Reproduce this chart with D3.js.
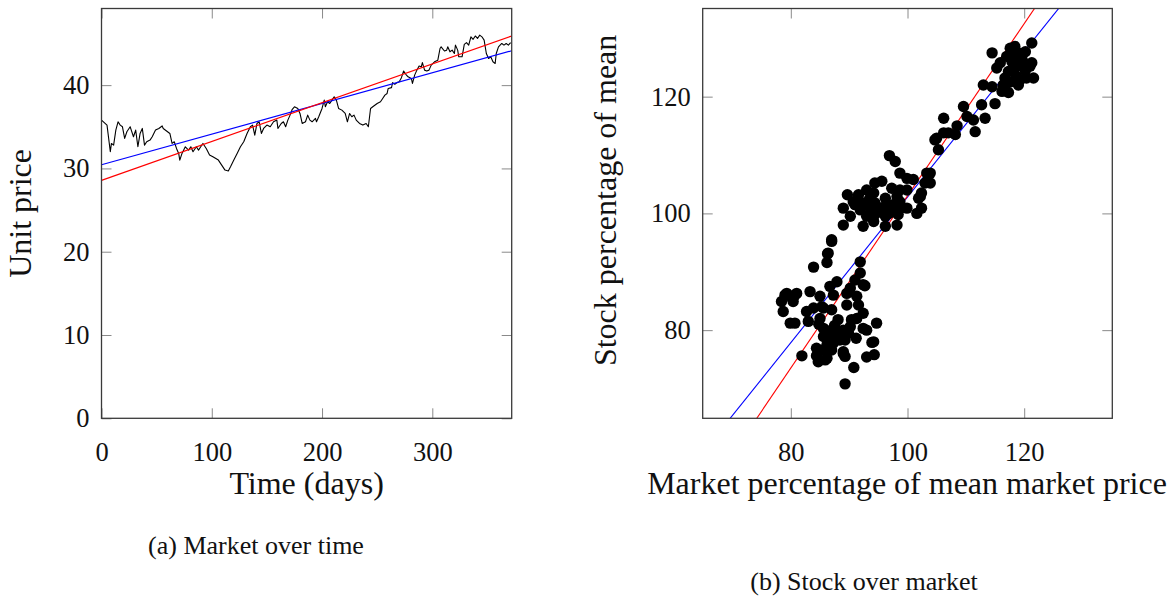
<!DOCTYPE html>
<html>
<head>
<meta charset="utf-8">
<script src="https://cdn.jsdelivr.net/npm/d3@7"></script>
<style>
  html, body { margin: 0; padding: 0; background: #fff; }
  svg { display: block; }
  text { font-family: "Liberation Serif", "Times New Roman", serif; fill: #111; }
</style>
</head>
<body>
<svg id="chart" width="1175" height="596"></svg>
<script>
// ---------- Data: (a) Market over time ----------
const days = [0,5,8,9,11,13,15,17,19,21,23,26,27,29,31,33,35,37,39,41,44,46,49,52,55,56,59,62,64,66,68,70,71,73,76,79,81,83,86,88,90,92,95,98,101,106,109,112,115,117,120,123,126,129,132,135,137,139,141,143,145,147,150,153,156,159,160,163,165,167,169,171,173,175,178,180,182,185,187,189,191,194,195,197,200,202,203,205,207,209,211,213,215,218,221,223,225,227,229,231,234,237,240,242,244,246,250,253,255,257,259,260,263,264,266,268,270,272,274,276,278,281,282,284,286,288,290,291,293,295,297,299,302,305,307,308,311,313,314,316,318,320,321,323,324,327,329,331,333,335,337,339,341,343,345,347,349,351,353,355,357,358,360,363,365,367,369,371];
const prices = [35.8,35.2,32.0,33.0,32.8,34.6,35.6,35.2,35.0,33.6,34.4,35.0,34.6,33.8,34.6,32.6,34.2,34.8,32.8,33.2,33.4,33.8,34.6,34.8,35.1,34.8,34.5,34.2,33.0,33.2,32.4,31.8,31.0,31.8,32.6,32.2,32.6,32.0,32.6,32.2,32.6,33.0,32.4,31.6,31.4,31.0,30.4,29.8,29.7,30.2,31.0,31.8,32.6,33.2,34.2,35.0,35.2,34.0,35.4,35.6,34.2,34.8,35.2,35.0,35.6,35.8,34.8,35.4,35.6,35.0,35.8,36.4,37.1,37.4,37.2,36.6,35.4,35.6,36.4,35.8,35.6,36.0,35.6,36.2,37.2,38.2,37.4,38.0,37.8,38.2,38.6,38.2,37.2,37.0,36.6,35.6,36.6,36.2,36.4,35.8,35.4,35.2,35.4,35.0,37.2,37.4,37.8,38.0,38.4,38.8,39.0,39.6,39.7,40.3,40.1,40.3,40.4,40.9,41.7,41.3,41.0,40.8,40.2,41.2,41.8,42.3,42.2,42.7,41.8,41.7,41.8,42.4,42.8,43.0,44.4,44.6,44.1,44.2,44.6,44.0,44.2,43.8,44.8,44.2,43.4,43.4,44.9,45.1,44.8,45.8,45.5,45.9,45.6,46.0,45.8,45.4,43.8,43.2,43.4,42.8,42.6,43.8,44.6,45.0,44.8,45.0,44.8,45.1];
const timeTicks = [0, 100, 200, 300];
const priceTicks = [0, 10, 20, 30, 40];
// fitted lines: [intercept, slope]
const timeFitBlue = [30.44, 0.0368];
const timeFitRed = [28.57, 0.0466];

// ---------- Data: (b) Stock over market ----------
const marketPct = [87.0,86.3,86.2,83.9,91.9,91.9,91.0,92.7,87.9,86.7,83.3,79.3,81.0,78.4,80.2,85.0,87.3,89.6,91.3,78.7,82.7,83.9,85.6,87.0,89.6,91.6,92.4,79.9,80.7,83.0,85.0,88.1,90.4,91.3,94.7,85.6,87.0,89.0,90.2,92.4,93.0,85.6,87.0,88.1,89.3,91.2,86.2,87.3,93.9,84.4,85.6,89.0,81.9,84.4,86.2,89.3,93.0,94.3,84.7,85.9,90.8,89.3,92.4,79.0,80.7,80.4,90.2,85.3,88.4,87.0,87.9,89.9,94.2,89.0,87.5,88.8,86.5,84.8,
  104.7,105.3,96.9,97.9,98.7,103.3,99.9,101.0,103.0,94.4,95.6,93.0,97.3,98.7,99.9,102.4,89.7,91.6,94.2,96.2,98.2,101.9,90.7,92.4,94.4,96.4,98.7,89.0,91.9,93.6,95.3,97.3,99.9,102.4,90.2,93.0,94.4,96.2,98.4,101.6,89.0,92.4,94.2,96.2,98.2,87.0,86.4,102.2,95.0,96.8,93.5,97.5,99.0,91.0,
  103.9,103.9,106.2,107.0,108.2,105.0,106.2,109.6,110.2,111.3,111.6,112.7,113.3,115.0,113.0,114.5,114.5,115.3,116.2,117.3,116.7,117.6,118.4,119.0,117.9,118.7,117.0,119.3,119.0,120.4,121.3,121.0,121.6,121.3,120.2,119.9,118.2,115.9,117.3,118.2,119.6,120.2,118.7,117.6,116.4,108.5];
const stockPct = [95.2,93.1,91.6,90.8,91.7,89.8,88.6,87.6,88.3,87.5,86.6,86.3,86.3,84.9,85.5,85.8,86.0,86.3,85.8,83.2,83.2,83.8,83.8,83.5,84.3,84.3,82.9,81.2,81.2,81.5,82.0,81.8,81.8,82.0,81.2,80.3,80.0,80.0,80.6,80.3,80.0,78.9,78.6,78.9,78.3,78.6,77.5,77.8,77.9,76.9,76.6,76.0,75.6,75.6,75.2,75.5,75.4,75.8,74.6,74.9,73.6,70.8,87.8,86.0,86.0,84.9,87.2,84.0,78.3,76.6,79.5,79.5,78.0,76.3,80.8,79.0,79.5,81.0,
  112.6,110.9,109.9,108.9,106.9,106.9,106.0,105.8,105.2,105.2,105.5,104.0,104.3,104.0,104.0,103.5,103.2,103.2,103.5,102.6,102.9,102.6,102.0,101.8,101.8,101.5,102.0,100.9,100.6,100.9,100.3,100.6,100.9,100.9,99.5,99.5,99.8,99.5,99.8,100.0,98.0,97.8,98.6,97.8,98.0,95.5,93.2,102.9,101.0,100.0,102.5,101.5,101.0,101.5,
  106.9,105.2,116.3,113.8,113.5,112.9,113.8,118.3,116.6,116.0,114.0,118.6,116.3,118.8,122.0,121.7,127.5,124.9,120.9,120.7,123.2,128.3,128.6,127.5,126.0,125.2,126.9,122.9,122.0,123.2,125.8,125.2,123.2,129.2,127.7,125.8,124.3,125.8,124.3,127.0,126.5,124.5,123.5,122.5,122.0,115.0];
const pctTicks = [80, 100, 120];
const pctDomain = [64.9, 135.1];
const scatterFitBlue = [-21.9, 1.247];
const scatterFitRed = [-44.5, 1.475];

// ---------- Layout ----------
const svg = d3.select("#chart");
const A = {left: 101.5, right: 511.7, top: 8.5, bottom: 418.3};
const B = {left: 702.7, right: 1112.3, top: 8.5, bottom: 418.3};
const tickLen = 10;
const tickFont = 26.5;
const labelFont = 32;

function frame(g, box, x, y, xt, yt, id) {
  g.append("g").attr("transform", `translate(0,${box.bottom})`)
    .call(d3.axisBottom(x).tickValues(xt).tickSize(-tickLen).tickPadding(tickLen + 14).tickFormat(d3.format("d")))
    .call(s => s.select(".domain").remove());
  g.append("g").attr("transform", `translate(0,${box.top})`)
    .call(d3.axisTop(x).tickValues(xt).tickSize(-tickLen).tickFormat(""))
    .call(s => s.select(".domain").remove());
  g.append("g").attr("transform", `translate(${box.left},0)`)
    .call(d3.axisLeft(y).tickValues(yt).tickSize(-tickLen).tickPadding(12).tickFormat(d3.format("d")))
    .call(s => s.select(".domain").remove());
  g.append("g").attr("transform", `translate(${box.right},0)`)
    .call(d3.axisRight(y).tickValues(yt).tickSize(-tickLen).tickFormat(""))
    .call(s => s.select(".domain").remove());
  g.selectAll(".tick line").attr("stroke", "#8a8a8a").attr("stroke-width", 1);
  g.selectAll(".tick text").style("font-family", '"Liberation Serif", serif')
    .style("font-size", tickFont + "px").attr("fill", "#111");
  g.append("clipPath").attr("id", id).append("rect")
    .attr("x", box.left).attr("y", box.top)
    .attr("width", box.right - box.left).attr("height", box.bottom - box.top);
}

function border(g, box) {
  g.append("rect").attr("x", box.left).attr("y", box.top)
    .attr("width", box.right - box.left).attr("height", box.bottom - box.top)
    .attr("fill", "none").attr("stroke", "#3a3a3a").attr("stroke-width", 1.3);
}

// ---------- Chart (a) ----------
const ga = svg.append("g");
const xa = d3.scaleLinear().domain([0, 372]).range([A.left, A.right]);
const ya = d3.scaleLinear().domain([0, 49.2]).range([A.bottom, A.top]);
frame(ga, A, xa, ya, timeTicks, priceTicks, "clipA");
const pa = ga.append("g").attr("clip-path", "url(#clipA)");
const seriesA = days.map((d, i) => [d, prices[i]]);
pa.append("path").datum(seriesA)
  .attr("d", d3.line().x(d => xa(d[0])).y(d => ya(d[1])))
  .attr("fill", "none").attr("stroke", "#000").attr("stroke-width", 1.1).attr("stroke-linejoin", "round");
[[timeFitBlue, "#0000ff"], [timeFitRed, "#ff0000"]].forEach(([f, c]) => {
  const dom = xa.domain();
  pa.append("line")
    .attr("x1", xa(dom[0])).attr("y1", ya(f[0] + f[1] * dom[0]))
    .attr("x2", xa(dom[1])).attr("y2", ya(f[0] + f[1] * dom[1]))
    .attr("stroke", c).attr("stroke-width", 1.2);
});
border(ga, A);
ga.append("text").attr("x", (A.left + A.right) / 2).attr("y", 494)
  .attr("text-anchor", "middle").style("font-size", labelFont + "px").text("Time (days)");
ga.append("text").attr("transform", `translate(31,${(A.top + A.bottom) / 2}) rotate(-90)`)
  .attr("text-anchor", "middle").style("font-size", labelFont + "px").text("Unit price");
ga.append("text").attr("x", 256).attr("y", 554)
  .attr("text-anchor", "middle").style("font-size", "26px").text("(a) Market over time");

// ---------- Chart (b) ----------
const gb = svg.append("g");
const xb = d3.scaleLinear().domain(pctDomain).range([B.left, B.right]);
const yb = d3.scaleLinear().domain(pctDomain).range([B.bottom, B.top]);
frame(gb, B, xb, yb, pctTicks, pctTicks, "clipB");
const pb = gb.append("g").attr("clip-path", "url(#clipB)");
const seriesB = marketPct.map((m, i) => [m, stockPct[i]]);
[[scatterFitBlue, "#0000ff"], [scatterFitRed, "#ff0000"]].forEach(([f, c]) => {
  const dom = xb.domain();
  pb.append("line")
    .attr("x1", xb(dom[0])).attr("y1", yb(f[0] + f[1] * dom[0]))
    .attr("x2", xb(dom[1])).attr("y2", yb(f[0] + f[1] * dom[1]))
    .attr("stroke", c).attr("stroke-width", 1.1);
});
pb.selectAll("circle").data(seriesB).enter().append("circle")
  .attr("cx", d => xb(d[0])).attr("cy", d => yb(d[1])).attr("r", 5.7).attr("fill", "#000");
border(gb, B);
gb.append("text").attr("x", 907).attr("y", 494)
  .attr("text-anchor", "middle").style("font-size", labelFont + "px").text("Market percentage of mean market price");
gb.append("text").attr("transform", `translate(616,${(B.top + B.bottom) / 2 - 13}) rotate(-90)`)
  .attr("text-anchor", "middle").style("font-size", labelFont + "px").text("Stock percentage of mean");
gb.append("text").attr("x", 864).attr("y", 590)
  .attr("text-anchor", "middle").style("font-size", "26px").text("(b) Stock over market");
</script>
</body>
</html>
